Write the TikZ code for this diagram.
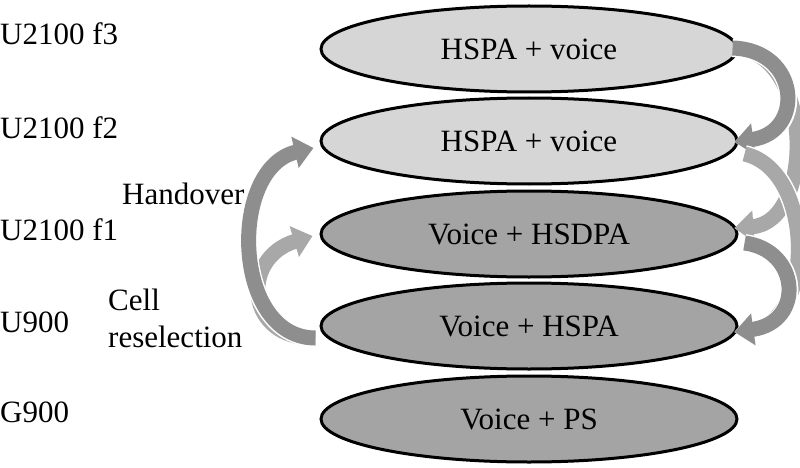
\documentclass[tikz,border=0pt]{standalone}
\usepackage{fontspec}
\setmainfont{Liberation Serif}
\usetikzlibrary{shapes.geometric,arrows.meta,calc}
\definecolor{lightcell}{HTML}{D6D6D6}
\definecolor{darkcell}{HTML}{A4A4A4}
\definecolor{bandlight}{HTML}{A8A8A8}
\definecolor{banddark}{HTML}{8E8E8E}
\tikzset{
  cell/.style={ellipse, draw=black, line width=3pt, minimum width=416pt, minimum height=86pt, inner sep=0pt, font=\fontsize{31}{35}\selectfont},
  lbl/.style={anchor=west, inner sep=0pt, font=\fontsize{31}{35}\selectfont},
  band/.style={line width=15pt, draw=#1, -{Triangle[length=19pt,width=31pt]},
    preaction={draw=white, line width=18pt, -{Triangle[length=21pt,width=36pt]}}},
}
\begin{document}
\begin{tikzpicture}[x=1pt,y=-1pt]
\useasboundingbox (0,0) rectangle (800,468);
% cells
\node[cell, fill=lightcell] (e1) at (529,49) {HSPA + voice};
\node[cell, fill=lightcell] (e2) at (529,141) {HSPA + voice};
\node[cell, fill=darkcell] (e3) at (529,234) {Voice + HSDPA};
\node[cell, fill=darkcell] (e4) at (529,326) {Voice + HSPA};
\node[cell, fill=darkcell] (e5) at (529,419) {Voice + PS};
% layer labels
\node[lbl] (l1) at (0,34) {U2100 f3};
\node[lbl] (l2) at (0,128) {U2100 f2};
\node[lbl] (l3) at (0,230) {U2100 f1};
\node[lbl] (l4) at (0,322) {U900};
\node[lbl] (l5) at (0,412) {G900};
\node[lbl] (ho) at (122,194) {Handover};
\node[lbl, align=left, font=\fontsize{31}{37}\selectfont] (cr) at (108,318) {Cell\\reselection};
% anchor points
\coordinate (a4t) at ($(e4.west)+(-4,12)$);
\coordinate (a2h) at ($(e2.west)+(-6,7)$);
\coordinate (a3h) at ($(e3.west)+(-7,2)$);
\coordinate (b1t) at ($(e1.east)+(-6,-1)$);
\coordinate (b2h) at ($(e2.east)+(-4,1)$);
\coordinate (b3h) at ($(e3.east)+(-4,-6)$);
\coordinate (b2t) at ($(e2.east)+(6,13)$);
\coordinate (b3t) at ($(e3.east)+(6,9)$);
\coordinate (b4h) at ($(e4.east)+(-4,6)$);
% left arrows (cell reselection / handover)
\draw[band=bandlight] (a4t) .. controls (245,340) and (240,258) .. (a3h);
\draw[band=banddark] (a4t) .. controls (232,338) and (228,168) .. (a2h);
% right arrows
\draw[band=bandlight] (b1t) .. controls (815,50) and (815,222) .. (b3h);
\draw[band=banddark] (b1t) .. controls (800,50) and (805,132) .. (b2h);
\draw[band=bandlight] (b2t) .. controls (815,170) and (815,322) .. (b4h);
\draw[band=banddark] (b3t) .. controls (800,250) and (805,322) .. (b4h);
\end{tikzpicture}
\end{document}
